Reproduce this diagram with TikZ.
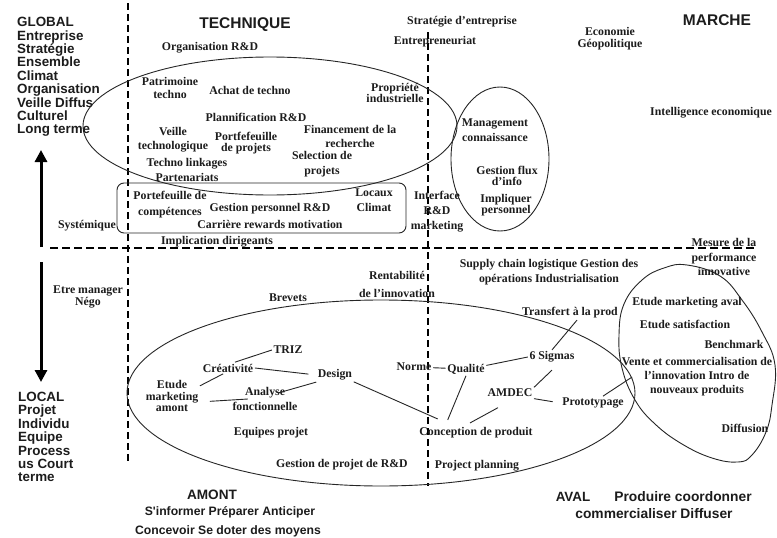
\documentclass[tikz,border=0pt]{standalone}
\usepackage{fontspec}
\setmainfont{Liberation Serif}
\newfontfamily\headfont{Liberation Sans}
\usetikzlibrary{arrows.meta}
\definecolor{ink}{HTML}{1C1C1C}
\definecolor{rule}{HTML}{262626}

\begin{document}
\begin{tikzpicture}[x=1pt,y=-1pt,
  lbl/.style={font=\fontsize{11.8}{13}\selectfont\bfseries, align=center, inner sep=1.5pt, text=ink},
  hdr/.style={font=\headfont\fontsize{15.5}{16}\selectfont\bfseries, inner sep=0pt, text=ink},
  side/.style={font=\headfont\fontsize{13.4}{13.4}\selectfont\bfseries, align=left, inner sep=0pt, text=ink, anchor=west},
  foot/.style={font=\headfont\fontsize{#1}{14}\selectfont\bfseries, inner sep=0pt, text=ink},
  link/.style={draw=rule, line width=0.9pt},
  frame/.style={draw=rule, line width=0.9pt},
  dashline/.style={draw=black, line width=1.9pt, dash pattern=on 8pt off 4pt},
  bigarrow/.style={draw=black, line width=3pt, -{Triangle[length=12pt,width=12pt]}}
]
\fill[white] (0,0) rectangle (777,538);
\useasboundingbox (0,0) rectangle (777,538);

% ---------- axes ----------
\coordinate (hL) at (50,248);  \coordinate (hR) at (757,248);
\coordinate (v1T) at (128,3);  \coordinate (v1B) at (128,462);
\coordinate (v2T) at (428,32); \coordinate (v2B) at (428,486);
\draw[dashline] (hL) -- (hR);
\draw[dashline, line width=1.7pt, dash pattern=on 7pt off 4pt] (v1T) -- (v1B);
\draw[dashline, line width=1.5pt, dash pattern=on 7pt off 4pt] (v2T) -- (v2B);

\coordinate (upS) at (41,247); \coordinate (upE) at (41,150);
\coordinate (dnS) at (41,262); \coordinate (dnE) at (41,382);
\draw[bigarrow] (upS) -- (upE);
\draw[bigarrow] (dnS) -- (dnE);

% ---------- enclosing shapes ----------
\draw[frame] (270,126) ellipse [x radius=187, y radius=69];
\draw[frame] (500,159) ellipse [x radius=49, y radius=72];
\draw[frame, rounded corners=7pt] (117,183) rectangle (406,233);
\draw[frame] (381,393) ellipse [x radius=254, y radius=93];
\draw[frame] plot[smooth cycle, tension=0.7] coordinates {
  (687,265) (720,276) (742,300) (762,332) (775,365) (772,405) (766,432)
  (752,455) (738,462) (712,458) (682,444) (655,424) (635,400) (622,368)
  (619,335) (624,304) (642,280) (664,268)};

% ---------- side headings ----------
\node[side] (global) at (17,77) {GLOBAL\\Entreprise\\Stratégie\\Ensemble\\Climat\\Organisation\\Veille Diffus\\Culturel\\Long terme};
\node[side] (local) at (18,437) {LOCAL\\Projet\\Individu\\Equipe\\Process\\us Court\\terme};
\node[hdr] (technique) at (245,25) {TECHNIQUE};
\node[hdr] (marche) at (717,20) {MARCHE};
\node[foot=13.6] (amont) at (212,495) {AMONT};
\node[foot=12.2] (amont1) at (230,512) {S'informer Préparer Anticiper};
\node[foot=12.2] (amont2) at (228,531) {Concevoir Se doter des moyens};
\node[foot=13.4] (aval) at (573,497) {AVAL};
\node[foot=13.8] (aval1) at (683,497) {Produire coordonner};
\node[foot=13.8] (aval2) at (654,514) {commercialiser Diffuser};

% ---------- upper half ----------
\node[lbl] (orgrd) at (210,48) {Organisation R\&D};
\node[lbl] (strat) at (462,22) {Stratégie d'entreprise};
\node[lbl] (entr) at (435,42) {Entrepreneuriat};
\node[lbl] (eco) at (610,39) {Economie\\[-1pt]Géopolitique};
\node[lbl] (intel) at (711,113) {Intelligence economique};
\node[lbl] (pat) at (170,88) {Patrimoine\\techno};
\node[lbl] (ach) at (250,90) {Achat de techno};
\node[lbl] (prop) at (395,93) {Propriété\\[-1.5pt]industrielle};
\node[lbl] (plan) at (256,117) {Plannification R\&D};
\node[lbl] (fin) at (350,136) {Financement de la\\[1pt]recherche};
\node[lbl] (vei) at (173,140) {Veille\\[1pt]technologique};
\node[lbl] (port) at (246,143) {Portfefeuille\\[-1.5pt]de projets};
\node[lbl] (sel) at (322,164) {Selection de\\[2pt]projets};
\node[lbl] (tlink) at (187,164) {Techno linkages};
\node[lbl] (part) at (187,177) {Partenariats};
\node[lbl] (comp) at (170,205) {Portefeuille de\\[3pt]compétences};
\node[lbl] (gest) at (270,209) {Gestion personnel R\&D};
\node[lbl] (car) at (270,224) {Carrière rewards motivation};
\node[lbl] (loc) at (374,200) {Locaux\\[2pt]Climat};
\node[lbl] (impl) at (217,242) {Implication dirigeants};
\node[lbl] (sys) at (87,226) {Systémique};
\node[lbl] (inter) at (437,212) {Interface\\[2pt]R\&D\\[2pt]marketing};
\node[lbl] (mgmt) at (495,130) {Management\\[2pt]connaissance};
\node[lbl] (flux) at (507,176) {Gestion flux\\[-1.5pt]d'info};
\node[lbl] (impq) at (506,205) {Impliquer\\[-1.5pt]personnel};
\node[lbl] (mes) at (724,257) {Mesure de la\\[1.5pt]performance\\[1pt]innovative};

% ---------- lower half ----------
\node[lbl] (etre) at (88,297) {Etre manager\\[-1pt]Négo};
\node[lbl] (brev) at (288,298) {Brevets};
\node[lbl] (rent) at (397,284) {Rentabilité\\[5pt]de l'innovation};
\node[lbl] (supp) at (549,272) {Supply chain logistique Gestion des\\[2pt]opérations Industrialisation};
\node[lbl] (tra) at (570,313) {Transfert à la prod};
\node[lbl] (triz) at (288,350) {TRIZ};
\node[lbl] (cre) at (228,368) {Créativité};
\node[lbl] (des) at (335,375) {Design};
\node[lbl] (etu) at (172,396) {Etude\\[-1pt]marketing\\[-1.5pt]amont};
\node[lbl] (ana) at (265,399) {Analyse\\[2pt]fonctionnelle};
\node[lbl] (equ) at (271,433) {Equipes projet};
\node[lbl] (gpr) at (342,465) {Gestion de projet de R\&D};
\node[lbl] (nor) at (414,367) {Norme};
\node[lbl] (qua) at (466,369) {Qualité};
\node[lbl] (sig) at (552,357) {6 Sigmas};
\node[lbl] (amd) at (510,393) {AMDEC};
\node[lbl] (pro) at (593,403) {Prototypage};
\node[lbl] (con) at (476,433) {Conception de produit};
\node[lbl] (ppl) at (477,466) {Project planning};
\node[lbl] (ema) at (687,303) {Etude marketing aval};
\node[lbl] (esa) at (685,324) {Etude satisfaction};
\node[lbl] (ben) at (734,344) {Benchmark};
\node[lbl] (ven) at (697,377) {Vente et commercialisation de\\[1pt]l'innovation Intro de\\[1pt]nouveaux produits};
\node[lbl] (dif) at (745,428) {Diffusion};

% ---------- links ----------
\draw[link] (cre.40) -- (triz.west);
\draw[link, shorten >=8pt] (cre.east) -- (des.west);
\draw[link] (etu.20) -- (cre.230);
\draw[link, shorten <=10pt] (etu.-12) -- ([xshift=17pt]ana.west);
\draw[link] ([shift={(13pt,6pt)}]ana.center) -- (des.south west);
\draw[link] (des.-20) -- ([xshift=20pt,yshift=7pt]con.north west);
\draw[link] (nor) -- (qua);
\draw[link] (qua.south) -- ([xshift=30pt,yshift=6pt]con.north west);
\draw[link] (qua.10) -- (sig.west);
\draw[link] (amd.north east) -- ([yshift=-6pt]sig.south);
\draw[link] ([xshift=-12pt,yshift=-9pt]amd.south) -- ([xshift=-6pt,yshift=3pt]con.north);
\draw[link, shorten >=8pt] (amd.south east) -- (pro.west);
\draw[link] (sig.north) -- ([xshift=7pt]tra.south);
\draw[link] ([xshift=10pt]pro.north) -- ([xshift=12pt]ven.west);
\end{tikzpicture}
\end{document}
